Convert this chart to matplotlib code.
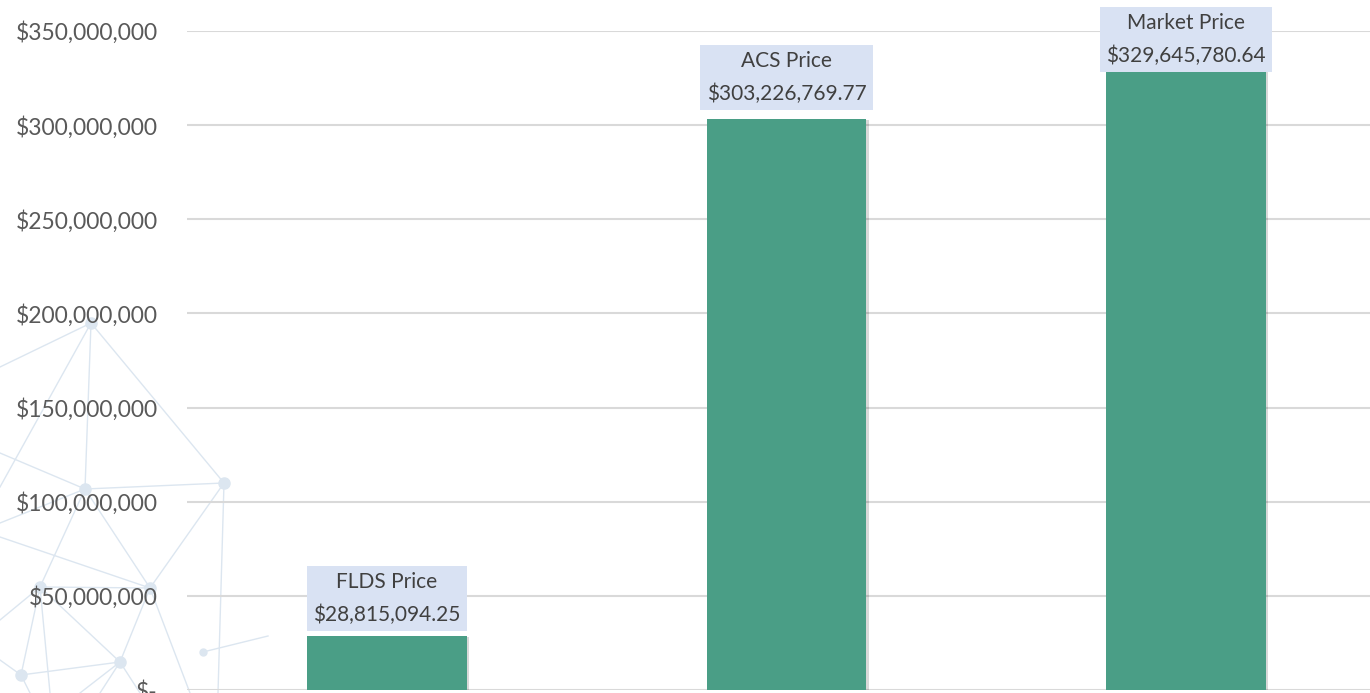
import numpy as np
import matplotlib
matplotlib.use('Agg')
import matplotlib.pyplot as plt
import matplotlib.patheffects as pe
from matplotlib.ticker import FuncFormatter

categories = ['FLDS Price', 'ACS Price', 'Market Price']
values = [28815094.25, 303226769.77, 329645780.64]
yticks = [0, 50000000, 100000000, 150000000, 200000000, 250000000, 300000000, 350000000]
label_offsets = [8, 11, 2.3]  # points above the bar top (last one squeezed under the top)

bar_color = '#4a9e86'
grid_color = '#d9d9d9'
text_color = '#595959'
label_color = '#404040'
box_color = '#d9e2f3'
deco_color = '#dce6f0'

plt.rcParams['font.family'] = ['Lato', 'DejaVu Sans']

W, H = 1370, 693
fig = plt.figure(figsize=(W / 100, H / 100), dpi=100)

# faint network decoration in the lower left (background art, pixel coords)
deco = fig.add_axes([0, 0, 1, 1], zorder=0)
deco.set_xlim(0, W)
deco.set_ylim(H, 0)
deco.axis('off')
nodes = {'a': (91, 323), 'b': (85, 489), 'c': (224, 483), 'd': (40, 587),
         'e': (150, 588), 'f': (120, 662), 'g': (21, 675), 'h': (203, 652)}
edges = [('a', 'b'), ('a', 'c'), ('b', 'c'), ('b', 'd'), ('b', 'e'), ('c', 'e'),
         ('d', 'e'), ('d', 'g'), ('d', 'f'), ('e', 'f'), ('g', 'f')]
for p, q in edges:
    deco.plot([nodes[p][0], nodes[q][0]], [nodes[p][1], nodes[q][1]],
              color=deco_color, lw=1)
loose = [((91, 323), (0, 367)), ((91, 323), (0, 487)), ((85, 489), (0, 453)),
         ((150, 588), (0, 537)), ((85, 489), (0, 523)), ((224, 483), (218, 693)),
         ((40, 587), (0, 620)), ((150, 588), (190, 693)), ((120, 662), (140, 693)),
         ((120, 662), (100, 693)), ((40, 587), (50, 693)), ((21, 675), (0, 660)),
         ((203, 652), (268, 636)), ((21, 675), (30, 693)), ((120, 662), (80, 693))]
for (x0, y0), (x1, y1) in loose:
    deco.plot([x0, x1], [y0, y1], color=deco_color, lw=1)
for name, (x, y) in nodes.items():
    deco.plot(x, y, 'o', color=deco_color, ms=8 if name != 'h' else 5)

# main chart
left, right = 187 / W, 1386 / W
bottom, top = (H - 690) / H, (H - 31) / H
ax = fig.add_axes([left, bottom, right - left, top - bottom], zorder=1)
ax.patch.set_alpha(0)

x = np.arange(len(categories))
bars = ax.bar(x, values, width=0.4, color=bar_color, zorder=3)
for b in bars:
    b.set_path_effects([pe.SimplePatchShadow(offset=(1.5, -1), shadow_rgbFace='#000000', alpha=0.15),
                        pe.Normal()])

ax.set_xlim(-0.5, 2.5)
ax.set_ylim(0, 350000000)
ax.set_yticks(yticks)
ax.yaxis.set_major_formatter(FuncFormatter(lambda v, p: '$-' if v == 0 else '${:,.0f}'.format(v)))
ax.tick_params(axis='y', length=0, pad=21, labelsize=16.5, labelcolor=text_color)
ax.set_xticks([])
ax.grid(axis='y', color=grid_color, lw=1.5, zorder=0)
ax.set_axisbelow(True)
for s in ax.spines.values():
    s.set_visible(False)

for xi, v, name, off in zip(x, values, categories, label_offsets):
    ax.annotate('{}\n${:,.2f}'.format(name, v), xy=(xi, v), xytext=(0, off),
                textcoords='offset points', ha='center', va='bottom',
                fontsize=15, color=label_color, linespacing=1.75,
                bbox=dict(boxstyle='square,pad=0.3', fc=box_color, ec='none'),
                zorder=5, annotation_clip=False)

fig.savefig('out.png', dpi=100)
